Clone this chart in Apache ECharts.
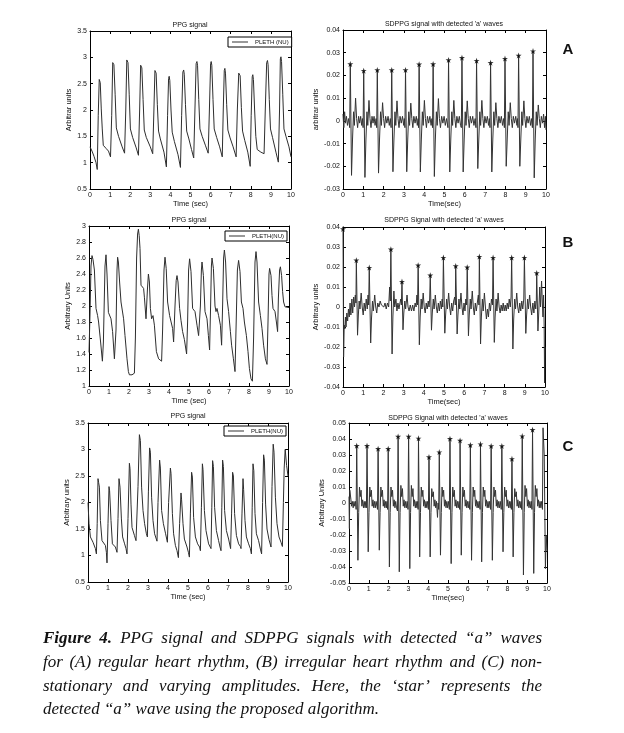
<!DOCTYPE html>
<html><head><meta charset="utf-8">
<script src="https://cdn.jsdelivr.net/npm/echarts@6/dist/echarts.min.js"></script>
<style>html,body{margin:0;padding:0;background:#fff}#c{width:624px;height:733px}</style>
</head><body><div id="c"></div>
<script>
// ---------- DATA ----------
const ppgA = [[0,1.30],[0.1,1.22],[0.2,1.12],[0.3,1.0],[0.36,0.87],
[0.41,1.9],[0.46,2.58],[0.48,2.61],[0.51,2.52],[0.56,2.02],[0.61,1.64],[0.66,1.33],[0.8,1.27],[0.92,1.22],[1.02,1.11],
[1.08,1.9],[1.13,2.9],[1.16,2.92],[1.19,2.86],[1.25,2.3],[1.31,1.66],[1.42,1.5],[1.6,1.3],[1.72,1.18],
[1.78,2.0],[1.83,2.95],[1.86,2.98],[1.89,2.9],[1.95,2.3],[2.01,1.64],[2.12,1.48],[2.3,1.28],[2.41,1.14],
[2.47,2.0],[2.52,2.85],[2.55,2.87],[2.58,2.8],[2.64,2.2],[2.7,1.62],[2.8,1.48],[3.0,1.3],[3.12,1.17],
[3.18,2.0],[3.23,2.75],[3.26,2.78],[3.29,2.7],[3.35,2.1],[3.41,1.6],[3.5,1.45],[3.68,1.2],[3.80,0.92],
[3.86,1.9],[3.91,2.6],[3.94,2.64],[3.97,2.56],[4.03,2.0],[4.09,1.58],[4.2,1.4],[4.38,1.15],[4.5,0.91],
[4.56,1.9],[4.62,2.72],[4.66,2.76],[4.69,2.68],[4.75,2.1],[4.81,1.6],[4.92,1.45],[5.05,1.25],[5.16,1.09],
[5.22,2.0],[5.28,2.88],[5.32,2.92],[5.35,2.85],[5.41,2.2],[5.47,1.64],[5.58,1.5],[5.75,1.32],[5.88,1.18],
[5.94,2.0],[6.0,2.88],[6.03,2.92],[6.06,2.85],[6.12,2.2],[6.18,1.64],[6.3,1.48],[6.45,1.3],[6.58,1.11],
[6.63,2.0],[6.68,2.75],[6.71,2.79],[6.74,2.7],[6.8,2.1],[6.86,1.62],[6.97,1.47],[7.12,1.3],[7.27,1.11],
[7.33,2.0],[7.4,2.7],[7.44,2.73],[7.47,2.65],[7.53,2.05],[7.59,1.6],[7.7,1.42],[7.85,1.2],[7.97,0.93],
[8.02,1.9],[8.07,2.63],[8.1,2.67],[8.13,2.58],[8.19,2.0],[8.25,1.5],[8.32,1.25],[8.5,1.2],[8.66,1.17],
[8.72,2.0],[8.79,2.9],[8.83,2.94],[8.86,2.86],[8.92,2.2],[8.98,1.64],[9.08,1.48],[9.25,1.2],[9.37,1.01],
[9.43,2.0],[9.47,2.97],[9.5,3.01],[9.53,2.92],[9.59,2.3],[9.65,1.64],[9.75,1.5],[9.9,1.3],[10,1.11]];

const sdppgA = [[0,0.003],[0.04,-0.003],[0.08,0.004],[0.12,-0.001],[0.17,0.002],[0.22,-0.002],[0.27,0.001],[0.33,-0.003],
[0.36,0.025],[0.42,-0.024],[0.47,-0.008],[0.52,0.004],[0.56,-0.002],[0.62,0.01],[0.67,0.001],[0.72,-0.003],[0.77,0.002],[0.82,-0.001],[0.87,0.002],[0.92,-0.002],[0.96,0.001],[0.99,-0.003],
[1.02,0.0221],[1.08,-0.0249],[1.13,-0.008],[1.18,0.004],[1.22,-0.002],[1.28,0.009],[1.33,0.001],[1.38,-0.003],[1.43,0.002],[1.48,-0.001],[1.53,0.002],[1.58,-0.002],[1.63,0.001],[1.66,-0.003],
[1.69,0.0224],[1.75,-0.023],[1.8,-0.008],[1.85,0.004],[1.89,-0.002],[1.95,0.008],[2.0,0.001],[2.05,-0.003],[2.1,0.002],[2.16,-0.001],[2.22,0.002],[2.28,-0.002],[2.33,0.001],[2.37,-0.003],
[2.40,0.0224],[2.46,-0.0224],[2.51,-0.008],[2.56,0.004],[2.6,-0.002],[2.66,0.0088],[2.71,0.001],[2.76,-0.003],[2.81,0.002],[2.87,-0.001],[2.93,0.002],[2.99,-0.002],[3.02,0.001],[3.05,-0.003],
[3.08,0.0224],[3.14,-0.0224],[3.19,-0.008],[3.24,0.004],[3.28,-0.002],[3.34,0.0078],[3.39,0.001],[3.44,-0.003],[3.49,0.002],[3.55,-0.001],[3.61,0.002],[3.66,-0.002],[3.7,0.001],[3.72,-0.003],
[3.75,0.0249],[3.81,-0.0225],[3.86,-0.008],[3.91,0.004],[3.95,-0.002],[4.01,0.009],[4.06,0.001],[4.11,-0.003],[4.16,0.002],[4.22,-0.001],[4.28,0.002],[4.34,-0.002],[4.38,0.001],[4.41,-0.003],
[4.44,0.025],[4.5,-0.0245],[4.55,-0.008],[4.6,0.004],[4.64,-0.002],[4.7,0.0098],[4.75,0.001],[4.8,-0.003],[4.86,0.002],[4.92,-0.001],[4.98,0.002],[5.04,-0.002],[5.1,0.001],[5.17,-0.003],
[5.20,0.0268],[5.26,-0.0225],[5.31,-0.008],[5.36,0.004],[5.4,-0.002],[5.46,0.009],[5.51,0.001],[5.56,-0.003],[5.61,0.002],[5.67,-0.001],[5.73,0.002],[5.79,-0.002],[5.83,-0.003],
[5.86,0.0278],[5.92,-0.0225],[5.97,-0.008],[6.02,0.004],[6.06,-0.002],[6.12,0.0088],[6.17,0.001],[6.22,-0.003],[6.27,0.002],[6.33,-0.001],[6.39,0.002],[6.45,-0.002],[6.51,0.001],[6.55,-0.003],
[6.58,0.0265],[6.64,-0.021],[6.69,-0.008],[6.74,0.004],[6.78,-0.002],[6.84,0.009],[6.89,0.001],[6.94,-0.003],[6.99,0.002],[7.05,-0.001],[7.11,0.002],[7.17,-0.002],[7.21,0.001],[7.24,-0.003],
[7.27,0.0256],[7.33,-0.0225],[7.38,-0.008],[7.43,0.004],[7.47,-0.002],[7.53,0.008],[7.58,0.001],[7.63,-0.003],[7.68,0.002],[7.74,-0.001],[7.8,0.002],[7.86,-0.002],[7.91,0.001],[7.95,-0.003],
[7.98,0.0274],[8.04,-0.02],[8.09,-0.008],[8.14,0.004],[8.18,-0.002],[8.24,0.008],[8.29,0.001],[8.34,-0.003],[8.39,0.002],[8.45,-0.001],[8.51,0.002],[8.57,-0.002],[8.6,0.001],[8.62,-0.003],
[8.65,0.0288],[8.71,-0.02],[8.76,-0.008],[8.81,0.004],[8.85,-0.002],[8.91,0.0088],[8.96,0.001],[9.01,-0.003],[9.06,0.002],[9.12,-0.001],[9.18,0.002],[9.24,-0.002],[9.29,0.001],[9.33,-0.003],
[9.36,0.0307],[9.42,-0.0251],[9.47,-0.008],[9.52,0.004],[9.56,-0.002],[9.62,0.007],[9.67,0.001],[9.72,-0.003],[9.77,0.002],[9.83,-0.001],[9.88,0.003],[9.93,-0.003],[9.97,0.002],[10,-0.004]];
const aTimesA = [0.36,1.02,1.69,2.40,3.08,3.75,4.44,5.20,5.86,6.58,7.27,7.98,8.65,9.36];
const aValsA  = [0.025,0.0221,0.0224,0.0224,0.0224,0.0249,0.025,0.0268,0.0278,0.0265,0.0256,0.0274,0.0288,0.0307];

const ppgB = [[0,1.42],[0.05,1.9],[0.1,2.5],[0.15,2.63],[0.2,2.58],[0.27,2.45],[0.35,1.97],[0.43,1.88],[0.48,1.8],[0.58,1.55],[0.67,1.31],
[0.72,1.55],[0.8,2.5],[0.85,2.64],[0.9,2.4],[0.97,1.92],[1.1,1.84],[1.18,1.68],[1.27,1.34],[1.3,1.32],
[1.35,1.7],[1.4,2.45],[1.43,2.61],[1.47,2.55],[1.53,2.3],[1.6,2.05],[1.73,1.84],[1.8,1.63],[1.9,1.34],[1.97,1.18],[2.02,1.14],[2.15,1.14],[2.27,1.16],
[2.32,1.6],[2.38,2.6],[2.43,2.9],[2.47,2.96],[2.51,2.88],[2.55,2.72],[2.6,2.26],[2.73,2.22],[2.77,2.11],[2.85,1.84],
[2.92,2.2],[2.97,2.4],[3.02,2.3],[3.07,1.97],[3.13,1.84],[3.2,1.88],[3.27,1.76],[3.37,1.43],[3.48,1.34],[3.63,1.31],
[3.68,1.7],[3.75,2.45],[3.8,2.61],[3.86,2.47],[3.93,2.05],[4.03,1.88],[4.1,1.88],[4.18,1.72],[4.23,1.55],
[4.3,2.0],[4.36,2.32],[4.4,2.38],[4.45,2.3],[4.53,1.97],[4.6,1.82],[4.68,1.68],[4.77,1.58],[4.88,1.4],
[4.93,1.8],[4.98,2.45],[5.03,2.59],[5.1,2.43],[5.18,1.97],[5.3,1.93],[5.4,1.76],[5.48,1.63],[5.52,1.61],
[5.57,2.0],[5.62,2.45],[5.65,2.55],[5.72,2.38],[5.8,1.93],[5.9,1.84],[5.97,1.63],[6.03,1.45],
[6.08,2.0],[6.12,2.5],[6.15,2.6],[6.22,2.47],[6.3,2.0],[6.35,1.93],[6.4,1.97],[6.48,1.88],[6.57,1.76],[6.63,1.51],
[6.68,2.0],[6.73,2.6],[6.77,2.7],[6.83,2.55],[6.9,2.09],[6.98,1.93],[7.07,1.68],[7.13,1.51],[7.22,1.34],[7.3,1.18],
[7.36,1.8],[7.42,2.45],[7.48,2.57],[7.55,2.43],[7.62,2.05],[7.7,1.97],[7.77,1.8],[7.87,1.63],[7.95,1.43],[8.02,1.22],[8.1,1.09],[8.17,1.06],
[8.23,1.6],[8.3,2.55],[8.35,2.68],[8.4,2.55],[8.48,2.05],[8.57,1.88],[8.65,1.72],[8.73,1.51],[8.82,1.34],[8.9,1.27],
[8.95,1.8],[9.0,2.4],[9.03,2.47],[9.1,2.38],[9.15,2.13],[9.2,1.97],[9.3,1.93],[9.37,1.8],[9.43,1.68],
[9.47,2.1],[9.53,2.45],[9.57,2.49],[9.63,2.38],[9.68,2.18],[9.73,2.05],[9.8,1.99],[9.9,2.0],[10,1.98]];

const sdppgB = [[0,0.039],[0.03,-0.025],[0.06,-0.009],[0.09,-0.011],[0.12,-0.005],[0.15,-0.01],[0.19,-0.003],[0.23,-0.007],[0.27,-0.001],[0.31,-0.005],[0.35,0.002],[0.39,-0.004],[0.44,0.004],[0.48,-0.003],[0.53,0.005],[0.57,0.0],[0.61,0.006],[0.64,0.002],
[0.66,0.0234],[0.72,-0.0141],[0.76,-0.004],[0.8,0.003],[0.84,-0.001],[0.9,0.007],[0.95,0.0],[1.0,-0.004],[1.05,0.002],[1.1,-0.002],[1.15,0.004],[1.2,-0.001],[1.24,0.006],[1.27,0.001],
[1.30,0.0197],[1.37,-0.018],[1.41,-0.006],[1.46,0.003],[1.5,-0.002],[1.57,0.006],[1.62,0.0],[1.67,-0.003],[1.72,0.002],[1.78,0.0],[1.84,0.003],[1.9,0.001],[1.96,0.002],[2.02,0.0],[2.08,0.002],[2.14,-0.001],[2.2,0.002],[2.26,0.0],[2.31,0.01],[2.34,0.003],
[2.37,0.0289],[2.43,-0.0235],[2.47,-0.005],[2.52,0.008],[2.56,0.0],[2.62,0.004],[2.67,-0.002],[2.72,0.002],[2.77,-0.001],[2.82,0.002],[2.86,0.004],[2.89,0.001],
[2.92,0.0127],[2.97,-0.0114],[3.01,-0.003],[3.06,0.003],[3.1,-0.001],[3.17,0.006],[3.22,0.0],[3.27,-0.002],[3.33,0.001],[3.39,-0.002],[3.45,0.001],[3.51,-0.002],[3.57,0.002],[3.62,0.0],[3.66,0.006],[3.69,0.001],
[3.72,0.0209],[3.78,-0.0189],[3.82,-0.005],[3.87,0.004],[3.91,-0.001],[3.97,0.007],[4.02,0.0],[4.07,-0.003],[4.12,0.002],[4.17,-0.001],[4.22,0.003],[4.26,0.0],[4.29,0.004],
[4.32,0.0159],[4.38,-0.0116],[4.42,-0.003],[4.47,0.004],[4.51,-0.001],[4.57,0.006],[4.62,0.0],[4.67,-0.003],[4.72,0.002],[4.77,-0.002],[4.82,0.003],[4.87,-0.001],[4.91,0.004],[4.94,0.0],
[4.97,0.0247],[5.04,-0.0131],[5.08,-0.004],[5.13,0.004],[5.17,-0.001],[5.23,0.007],[5.28,0.0],[5.33,-0.004],[5.38,0.002],[5.43,-0.002],[5.48,0.003],[5.53,0.005],[5.56,0.001],
[5.58,0.0205],[5.65,-0.0135],[5.69,-0.004],[5.74,0.004],[5.78,-0.001],[5.84,0.007],[5.89,0.0],[5.94,-0.004],[5.99,0.002],[6.04,-0.002],[6.08,0.004],[6.12,0.001],
[6.15,0.0199],[6.21,-0.0144],[6.25,-0.004],[6.3,0.004],[6.34,-0.001],[6.4,0.008],[6.45,0.0],[6.5,-0.004],[6.55,0.002],[6.6,-0.002],[6.66,0.003],[6.7,0.006],[6.73,0.001],
[6.75,0.0252],[6.81,-0.0185],[6.85,-0.005],[6.9,0.004],[6.94,-0.002],[7.0,0.007],[7.05,0.0],[7.1,-0.006],[7.15,-0.001],[7.2,-0.005],[7.25,0.002],[7.3,-0.002],[7.35,0.004],[7.4,0.001],
[7.43,0.0247],[7.49,-0.0177],[7.53,-0.005],[7.58,0.004],[7.62,-0.002],[7.68,0.007],[7.73,0.0],[7.78,-0.003],[7.83,0.001],[7.88,-0.002],[7.93,0.002],[7.98,-0.002],[8.03,0.001],[8.08,-0.002],[8.13,0.002],[8.18,-0.001],[8.23,0.004],[8.28,0.0],[8.32,0.005],
[8.35,0.0247],[8.41,-0.021],[8.45,-0.006],[8.5,0.004],[8.54,-0.001],[8.6,0.007],[8.65,0.0],[8.7,-0.003],[8.75,0.002],[8.8,-0.002],[8.85,0.003],[8.9,-0.001],[8.95,0.004],
[8.98,0.0247],[9.05,-0.0132],[9.09,-0.004],[9.14,0.004],[9.18,-0.001],[9.24,0.006],[9.29,0.0],[9.34,-0.004],[9.4,0.002],[9.45,-0.003],[9.5,0.003],[9.54,-0.001],[9.57,0.003],
[9.59,0.017],[9.65,-0.012],[9.69,-0.003],[9.74,0.01],[9.78,0.0],[9.83,0.013],[9.87,0.002],[9.9,-0.005],[9.93,0.006],[9.96,-0.01],[9.98,-0.038],[10,-0.02]];
const aTimesB = [0.0,0.66,1.30,2.37,2.92,3.72,4.32,4.97,5.58,6.15,6.75,7.43,8.35,8.98,9.59];
const aValsB  = [0.039,0.0234,0.0197,0.0289,0.0127,0.0209,0.0159,0.0247,0.0205,0.0199,0.0252,0.0247,0.0247,0.0247,0.017];

const ppgC = [[0,2.0],[0.05,1.6],[0.12,1.35],[0.25,1.25],[0.37,1.13],[0.42,1.03],
[0.46,1.6],[0.5,2.45],[0.53,2.38],[0.57,2.29],[0.62,1.66],[0.7,1.28],[0.87,1.19],[0.92,1.06],[0.95,0.86],
[1.0,1.6],[1.05,2.3],[1.08,2.22],[1.15,1.66],[1.22,1.22],[1.37,1.16],[1.45,1.06],
[1.5,1.7],[1.55,2.45],[1.6,2.29],[1.67,1.69],[1.73,1.35],[1.83,1.22],[1.9,1.13],[1.95,1.03],
[2.0,1.7],[2.07,2.74],[2.1,2.64],[2.15,1.97],[2.2,1.53],[2.32,1.38],[2.4,1.28],[2.43,1.25],
[2.5,2.3],[2.57,3.28],[2.62,3.17],[2.68,2.29],[2.75,1.85],[2.83,1.6],[2.92,1.41],[2.97,1.35],
[3.02,2.2],[3.08,3.03],[3.12,2.95],[3.18,2.1],[3.25,1.66],[3.33,1.41],[3.45,1.27],
[3.5,2.0],[3.58,2.8],[3.62,2.65],[3.68,1.85],[3.77,1.6],[3.88,1.41],[3.97,1.25],
[4.03,2.0],[4.12,2.65],[4.15,2.55],[4.22,1.79],[4.28,1.41],[4.37,1.19],[4.45,1.09],[4.52,0.96],
[4.58,1.6],[4.65,2.18],[4.68,2.05],[4.75,1.6],[4.82,1.31],[4.95,1.16],[5.02,1.06],[5.07,0.97],
[5.12,1.8],[5.18,2.57],[5.22,2.48],[5.28,1.72],[5.37,1.35],[5.48,1.22],[5.58,1.16],[5.62,1.09],
[5.67,1.9],[5.72,2.73],[5.75,2.62],[5.82,1.85],[5.9,1.47],[6.03,1.22],[6.15,1.13],
[6.19,1.9],[6.23,2.79],[6.27,2.68],[6.33,1.91],[6.42,1.47],[6.53,1.28],[6.6,1.16],[6.65,1.09],
[6.69,1.9],[6.73,2.8],[6.77,2.68],[6.83,1.85],[6.92,1.47],[7.03,1.31],[7.13,1.13],
[7.18,1.8],[7.23,2.57],[7.27,2.5],[7.33,1.79],[7.42,1.38],[7.53,1.22],[7.62,1.17],[7.65,1.13],
[7.7,1.8],[7.75,2.45],[7.78,2.25],[7.85,1.66],[7.92,1.35],[8.03,1.22],[8.12,1.13],[8.17,1.03],
[8.21,1.9],[8.25,2.73],[8.29,2.6],[8.35,1.79],[8.42,1.41],[8.53,1.28],[8.62,1.12],[8.68,1.03],
[8.73,2.0],[8.78,2.9],[8.82,2.8],[8.88,1.97],[8.95,1.5],[9.05,1.3],[9.15,1.16],
[9.2,2.3],[9.26,3.1],[9.3,2.95],[9.37,2.1],[9.45,1.6],[9.55,1.35],[9.65,1.25],[9.72,1.17],
[9.77,2.0],[9.81,2.65],[9.86,3.0],[9.93,2.7],[10,2.5]];

const sdppgC = [[0,0.004],[0.02,-0.016],[0.04,0.008],[0.07,0.009],[0.1,0.002],[0.13,-0.002],[0.17,0.001],[0.21,-0.003],[0.25,0.001],[0.29,-0.002],[0.33,0.001],[0.36,-0.004],
[0.39,0.0358],[0.45,-0.0358],[0.49,-0.006],[0.53,0.01],[0.57,0.004],[0.61,0.008],[0.65,-0.002],[0.69,0.002],[0.73,-0.003],[0.77,0.001],[0.81,-0.003],[0.85,0.001],[0.88,-0.003],
[0.91,0.0358],[0.97,-0.0305],[1.01,-0.006],[1.05,0.01],[1.09,0.004],[1.13,0.008],[1.17,-0.002],[1.21,0.002],[1.25,-0.003],[1.29,0.001],[1.33,-0.003],[1.37,0.001],[1.41,-0.002],[1.44,-0.004],
[1.47,0.0339],[1.53,-0.0295],[1.57,-0.006],[1.61,0.01],[1.65,0.004],[1.69,0.008],[1.73,-0.002],[1.77,0.002],[1.81,-0.003],[1.85,0.001],[1.89,-0.003],[1.92,0.001],[1.95,-0.004],
[1.98,0.0339],[2.04,-0.04],[2.08,-0.006],[2.12,0.01],[2.16,0.004],[2.2,0.008],[2.24,-0.002],[2.28,0.002],[2.32,-0.003],[2.36,0.001],[2.4,-0.003],[2.45,-0.005],
[2.48,0.0416],[2.54,-0.043],[2.58,-0.006],[2.62,0.011],[2.66,0.004],[2.7,0.009],[2.74,-0.002],[2.78,0.002],[2.82,-0.003],[2.86,0.001],[2.9,-0.003],[2.94,0.001],[2.98,-0.004],
[3.01,0.0416],[3.07,-0.041],[3.11,-0.006],[3.15,0.011],[3.19,0.004],[3.23,0.009],[3.27,-0.002],[3.31,0.002],[3.35,-0.003],[3.39,0.001],[3.43,-0.003],[3.47,0.001],[3.49,-0.004],
[3.51,0.0404],[3.57,-0.0337],[3.61,-0.006],[3.65,0.01],[3.69,0.004],[3.73,0.008],[3.77,-0.002],[3.81,0.002],[3.85,-0.003],[3.89,0.001],[3.93,-0.003],[3.97,0.001],[4.01,-0.004],
[4.04,0.0287],[4.1,-0.0337],[4.14,-0.006],[4.18,0.009],[4.22,0.004],[4.26,0.007],[4.3,-0.002],[4.34,0.002],[4.38,-0.003],[4.42,0.001],[4.47,-0.009],[4.5,0.0],[4.53,-0.004],
[4.56,0.0318],[4.62,-0.0326],[4.66,-0.006],[4.7,0.01],[4.74,0.004],[4.78,0.008],[4.82,-0.002],[4.86,0.002],[4.9,-0.003],[4.94,0.001],[4.98,-0.003],[5.02,0.001],[5.07,-0.004],
[5.10,0.0402],[5.16,-0.0379],[5.2,-0.006],[5.24,0.01],[5.28,0.004],[5.32,0.008],[5.36,-0.002],[5.4,0.002],[5.44,-0.003],[5.48,0.001],[5.52,-0.003],[5.56,0.001],[5.59,-0.004],
[5.61,0.0391],[5.67,-0.0326],[5.71,-0.006],[5.75,0.01],[5.79,0.004],[5.83,0.008],[5.87,-0.002],[5.91,0.002],[5.95,-0.003],[5.99,0.001],[6.03,-0.003],[6.07,0.001],[6.1,-0.004],
[6.13,0.0362],[6.19,-0.0358],[6.23,-0.006],[6.27,0.01],[6.31,0.004],[6.35,0.008],[6.39,-0.002],[6.43,0.002],[6.47,-0.003],[6.51,0.001],[6.55,-0.003],[6.59,0.001],[6.62,-0.004],
[6.64,0.0368],[6.7,-0.0368],[6.74,-0.006],[6.78,0.01],[6.82,0.004],[6.86,0.008],[6.9,-0.002],[6.94,0.002],[6.98,-0.003],[7.02,0.001],[7.06,-0.003],[7.1,0.001],[7.15,-0.004],
[7.18,0.0356],[7.24,-0.0358],[7.28,-0.006],[7.32,0.01],[7.36,0.004],[7.4,0.008],[7.44,-0.002],[7.48,0.002],[7.52,-0.003],[7.56,0.001],[7.6,-0.003],[7.64,0.001],[7.69,-0.004],
[7.72,0.0356],[7.78,-0.0305],[7.82,-0.006],[7.86,0.01],[7.9,0.004],[7.94,0.008],[7.98,-0.002],[8.02,0.002],[8.06,-0.003],[8.1,0.001],[8.14,-0.003],[8.18,0.001],[8.2,-0.004],
[8.23,0.0276],[8.29,-0.0337],[8.33,-0.006],[8.37,0.009],[8.41,0.004],[8.45,0.007],[8.49,-0.002],[8.53,0.002],[8.57,-0.003],[8.61,0.001],[8.65,-0.003],[8.69,0.001],[8.72,-0.004],
[8.75,0.0418],[8.81,-0.045],[8.85,-0.006],[8.89,0.011],[8.93,0.004],[8.97,0.009],[9.01,-0.002],[9.05,0.002],[9.09,-0.003],[9.13,0.001],[9.17,-0.003],[9.21,0.001],[9.24,-0.004],
[9.27,0.0458],[9.33,-0.044],[9.37,-0.006],[9.41,0.011],[9.45,0.004],[9.49,0.009],[9.53,-0.002],[9.57,0.002],[9.61,-0.003],[9.65,0.001],[9.69,-0.003],[9.73,0.001],[9.77,-0.004],
[9.8,0.047],[9.86,0.03],[9.92,-0.041],[9.96,-0.02],[10,-0.03]];
const aTimesC = [0.39,0.91,1.47,1.98,2.48,3.01,3.51,4.04,4.56,5.10,5.61,6.13,6.64,7.18,7.72,8.23,8.75,9.27];
const aValsC  = [0.0358,0.0358,0.0339,0.0339,0.0416,0.0416,0.0404,0.0287,0.0318,0.0402,0.0391,0.0362,0.0368,0.0356,0.0356,0.0276,0.0418,0.0458];

const panelTitles = ['PPG signal', "SDPPG signal with detected 'a' waves", 'PPG signal', "SDPPG Signal with detected 'a' waves", 'PPG signal', "SDPPG Signal with detected 'a' waves"];
const xNames = ['Time (sec)','Time(sec)','Time (sec)','Time(sec)','Time (sec)','Time(sec)'];
const yNames = ['Arbitrar units','arbitrar units','Arbitrary Units','Arbitrary units','Arbitrary units','Arbitrary Units'];
const yRanges = [[0.5,3.5,0.5],[-0.03,0.04,0.01],[1,3,0.2],[-0.04,0.04,0.01],[0.5,3.5,0.5],[-0.05,0.05,0.01]];
const xRange = [0,10,1];
const legendLabels = ['PLETH (NU)','PLETH(NU)','PLETH(NU)'];
const rowLetters = ['A','B','C'];
const captionLines = [
 'Figure 4. PPG signal and SDPPG signals with detected \u201ca\u201d waves',
 'for (A) regular heart rhythm, (B) irregular heart rhythm and (C) non-',
 'stationary and varying amplitudes. Here, the \u2018star\u2019 represents the',
 'detected \u201ca\u201d wave using the proposed algorithm.'
];

// ---------- LAYOUT ----------
const layout = [
 {g:{left:90,top:31,width:201,height:158}, yGap:14, tx:190, ty:25},
 {g:{left:343,top:30,width:203,height:159}, yGap:17, tx:444, ty:24},
 {g:{left:89,top:226,width:200,height:160}, yGap:13, tx:189, ty:220},
 {g:{left:343,top:227,width:202,height:160}, yGap:17, tx:444, ty:220},
 {g:{left:88,top:423,width:200,height:159}, yGap:14, tx:188, ty:416},
 {g:{left:349,top:423,width:198,height:160}, yGap:20, tx:448, ty:418}
];
const FONT = 'Liberation Sans';
const STAR = 'path://M50 0L61.8 35.1L98.8 35.1L68.9 56.7L80.3 91.9L50 70.2L19.7 91.9L31.1 56.7L1.2 35.1L38.2 35.1Z';

const grid=[], xAxis=[], yAxis=[], graphic=[];
const axLine = {show:true, onZero:false, lineStyle:{color:'#000', width:1}};
const axTick = {show:true, inside:true, length:3, lineStyle:{color:'#000'}};
layout.forEach((p,i)=>{
  grid.push(Object.assign({}, p.g));
  const [ymin,ymax,yint] = yRanges[i];
  xAxis.push({type:'value', gridIndex:i, min:xRange[0], max:xRange[1], interval:xRange[2], position:'bottom',
    axisLine:axLine, axisTick:axTick, splitLine:{show:false},
    axisLabel:{fontSize:7, fontFamily:FONT, color:'#111', margin:3},
    name:xNames[i], nameLocation:'middle', nameGap:9, nameTextStyle:{fontSize:7.5, fontFamily:FONT, color:'#111'}});
  xAxis.push({type:'value', gridIndex:i, min:xRange[0], max:xRange[1], interval:xRange[2], position:'top',
    axisLine:axLine, axisTick:axTick, splitLine:{show:false}, axisLabel:{show:false}});
  yAxis.push({type:'value', gridIndex:i, min:ymin, max:ymax, interval:yint, position:'left',
    axisLine:axLine, axisTick:axTick, splitLine:{show:false},
    axisLabel:{fontSize:7, fontFamily:FONT, color:'#111', margin:3},
    name:yNames[i], nameLocation:'middle', nameGap:p.yGap, nameTextStyle:{fontSize:7.5, fontFamily:FONT, color:'#111'}});
  yAxis.push({type:'value', gridIndex:i, min:ymin, max:ymax, interval:yint, position:'right',
    axisLine:axLine, axisTick:axTick, splitLine:{show:false}, axisLabel:{show:false}});
  graphic.push({type:'text', x:p.tx, y:p.ty, style:{text:panelTitles[i], fontSize:7, fontFamily:FONT, fill:'#111', align:'center', verticalAlign:'middle'}});
});

const ppgData = [ppgA, ppgB, ppgC];
const sdData = [sdppgA, sdppgB, sdppgC];
const starT = [aTimesA, aTimesB, aTimesC];
const starV = [aValsA, aValsB, aValsC];
const series = [];
for (let r=0;r<3;r++){
  const li = 2*r, ri = 2*r+1;
  series.push({type:'line', name:'ppg'+r, xAxisIndex:2*li, yAxisIndex:2*li, data:ppgData[r],
    symbol:'none', showSymbol:false, lineStyle:{width:1, color:'#2e2e2e'}, itemStyle:{color:'#2e2e2e'}, animation:false});
  series.push({type:'line', name:'sd'+r, xAxisIndex:2*ri, yAxisIndex:2*ri, data:sdData[r],
    symbol:'none', showSymbol:false, lineStyle:{width:1, color:'#333'}, itemStyle:{color:'#333'}, animation:false});
  series.push({type:'scatter', name:'star'+r, xAxisIndex:2*ri, yAxisIndex:2*ri,
    data:starT[r].map((t,k)=>[t, starV[r][k]]), symbol:STAR, symbolSize:6, itemStyle:{color:'#000'}, animation:false, z:5});
}

const legendPos = [{left:228, top:37},{left:225, top:231},{left:224, top:426}];
const legend = legendPos.map((lp,r)=>({
  data:['ppg'+r], left:lp.left, top:lp.top, orient:'horizontal',
  formatter: ()=>legendLabels[r], borderColor:'#000', borderWidth:1, borderRadius:0,
  padding:[2,3,2,4], itemWidth:16, itemHeight:1, itemGap:4, icon:'rect',
  itemStyle:{color:'#333'}, textStyle:{fontSize:6, fontFamily:FONT, color:'#111', padding:[0,0,0,2]},
  selectedMode:false, backgroundColor:'#fff'
}));

// row letters
const letterY = [50, 243, 447];
rowLetters.forEach((L,i)=>graphic.push({type:'text', x:568, y:letterY[i],
  style:{text:L, fontSize:15, fontWeight:'bold', fontFamily:FONT, fill:'#111', align:'center', verticalAlign:'middle'}}));

// caption (justified lines)
const capY = [639, 663, 687, 710];
const capFS = 17, capFam = '"Liberation Serif"';
const ctx = document.createElement('canvas').getContext('2d');
function wWidth(w, bold){ ctx.font = 'italic ' + (bold?'bold ':'') + capFS + 'px ' + capFam; return ctx.measureText(w).width; }
captionLines.forEach((line, li)=>{
  const words = line.split(' ');
  const bolds = words.map((w,k)=> li===0 && k<2);
  const widths = words.map((w,k)=>wWidth(w, bolds[k]));
  const total = widths.reduce((a,b)=>a+b,0);
  const x0 = 43, x1 = 542;
  const justify = li < 3;
  const sp = justify ? (x1-x0-total)/(words.length-1) : wWidth(' ', false);
  let x = x0;
  words.forEach((w,k)=>{
    graphic.push({type:'text', x:x, y:capY[li], style:{text:w, fontSize:capFS, fontStyle:'italic',
      fontWeight: bolds[k]?'bold':'normal', fontFamily:capFam, fill:'#111', align:'left', verticalAlign:'middle'}});
    x += widths[k] + sp;
  });
});

const chart = echarts.init(document.getElementById('c'), null, {renderer:'canvas'});
chart.setOption({backgroundColor:'#fff', animation:false, grid, xAxis, yAxis, series, legend, graphic});
</script>
</body></html>
